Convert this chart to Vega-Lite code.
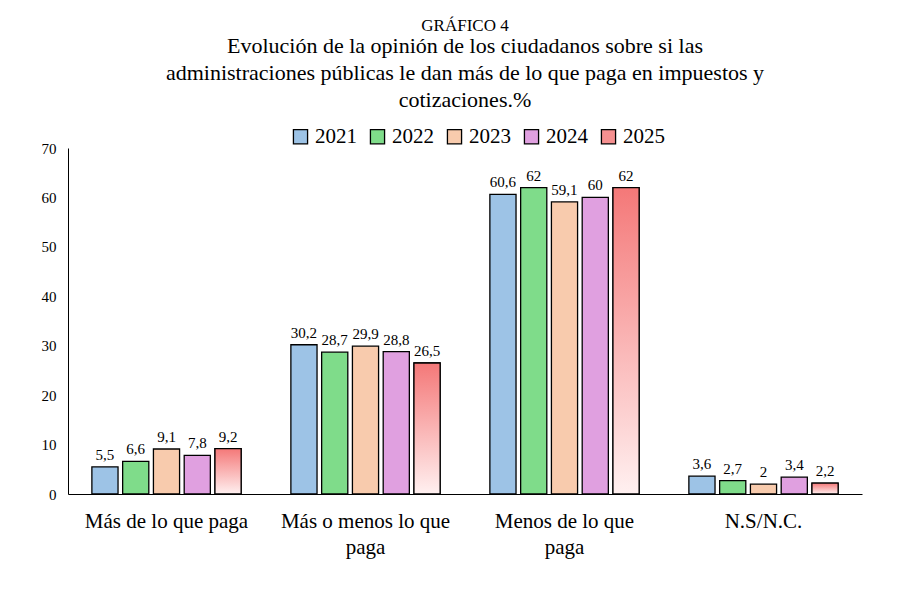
{
  "$schema": "https://vega.github.io/schema/vega-lite/v6.json",
  "width": 794,
  "height": 346,
  "autosize": "none",
  "padding": {"left": 68, "top": 148, "right": 51, "bottom": 99},
  "background": "white",
  "config": {
    "font": "Liberation Serif",
    "view": {"stroke": null},
    "axis": {"labelFont": "Liberation Serif", "labelColor": "black", "domainColor": "black", "grid": false},
    "legend": {"labelFont": "Liberation Serif"},
    "title": {"font": "Liberation Serif", "subtitleFont": "Liberation Serif"}
  },
  "title": {
    "text": "GRÁFICO 4",
    "subtitle": ["Evolución de la opinión de los ciudadanos sobre si las", "administraciones públicas le dan más de lo que paga en impuestos y", "cotizaciones.%"],
    "fontSize": 17, "fontWeight": "normal", "color": "black",
    "subtitleFontSize": 22, "subtitleColor": "black", "subtitleLineHeight": 27, "subtitlePadding": 1,
    "anchor": "middle", "offset": 14
  },
  "data": {"values": [
    {"cat": "Más de lo que paga", "year": "2021", "v": 5.5},
    {"cat": "Más de lo que paga", "year": "2022", "v": 6.6},
    {"cat": "Más de lo que paga", "year": "2023", "v": 9.1},
    {"cat": "Más de lo que paga", "year": "2024", "v": 7.8},
    {"cat": "Más de lo que paga", "year": "2025", "v": 9.2},
    {"cat": "Más o menos lo que paga", "year": "2021", "v": 30.2},
    {"cat": "Más o menos lo que paga", "year": "2022", "v": 28.7},
    {"cat": "Más o menos lo que paga", "year": "2023", "v": 29.9},
    {"cat": "Más o menos lo que paga", "year": "2024", "v": 28.8},
    {"cat": "Más o menos lo que paga", "year": "2025", "v": 26.5},
    {"cat": "Menos de lo que paga", "year": "2021", "v": 60.6},
    {"cat": "Menos de lo que paga", "year": "2022", "v": 62},
    {"cat": "Menos de lo que paga", "year": "2023", "v": 59.1},
    {"cat": "Menos de lo que paga", "year": "2024", "v": 60},
    {"cat": "Menos de lo que paga", "year": "2025", "v": 62},
    {"cat": "N.S/N.C.", "year": "2021", "v": 3.6},
    {"cat": "N.S/N.C.", "year": "2022", "v": 2.7},
    {"cat": "N.S/N.C.", "year": "2023", "v": 2},
    {"cat": "N.S/N.C.", "year": "2024", "v": 3.4},
    {"cat": "N.S/N.C.", "year": "2025", "v": 2.2}
  ]},
  "transform": [{"calculate": "replace(format(datum.v, '.1~f'), '.', ',')", "as": "lab"}],
  "encoding": {
    "x": {"field": "cat", "type": "nominal", "sort": null, "title": null,
      "scale": {"paddingInner": 0.25, "paddingOuter": 0.12},
      "axis": {"labelAngle": 0, "labelFontSize": 21, "ticks": false, "labelPadding": 16, "labelLineHeight": 26,
        "labelExpr": "datum.label == 'Más o menos lo que paga' ? ['Más o menos lo que', 'paga'] : datum.label == 'Menos de lo que paga' ? ['Menos de lo que', 'paga'] : datum.label"}},
    "xOffset": {"field": "year", "type": "nominal", "scale": {"domain": ["2021", "2022", "2023", "2024", "2025"], "paddingInner": 0.15}},
    "y": {"field": "v", "type": "quantitative", "title": null,
      "scale": {"domain": [0, 70]},
      "axis": {"values": [0, 10, 20, 30, 40, 50, 60, 70], "labelFontSize": 15, "ticks": false, "labelPadding": 12}}
  },
  "layer": [
    {
      "mark": {"type": "bar", "stroke": "black", "strokeWidth": 1.3},
      "encoding": {
        "color": {"field": "year", "type": "nominal", "title": null,
          "scale": {"domain": ["2021", "2022", "2023", "2024", "2025"], "range": ["#9dc3e6", "#7fdc8a", "#f8cbad", "#e0a0e0", "#f69090"]},
          "legend": {"orient": "none", "legendX": 222, "legendY": -22, "direction": "horizontal", "symbolType": "square", "symbolSize": 200, "symbolStrokeColor": "black", "symbolStrokeWidth": 1.3, "labelFontSize": 21, "labelFont": "Liberation Serif", "labelColor": "black", "columnPadding": 10, "symbolOpacity": 1}}
      }
    },
    {
      "transform": [{"filter": "datum.year == '2025'"}],
      "mark": {"type": "bar", "stroke": "black", "strokeWidth": 1.3,
        "fill": {"gradient": "linear", "x1": 0, "y1": 0, "x2": 0, "y2": 1, "stops": [{"offset": 0, "color": "#f47878"}, {"offset": 1, "color": "#fff0f0"}]}}
    },
    {
      "mark": {"type": "text", "dy": -12, "fontSize": 15, "color": "black", "font": "Liberation Serif"},
      "encoding": {"text": {"field": "lab"}}
    }
  ]
}
